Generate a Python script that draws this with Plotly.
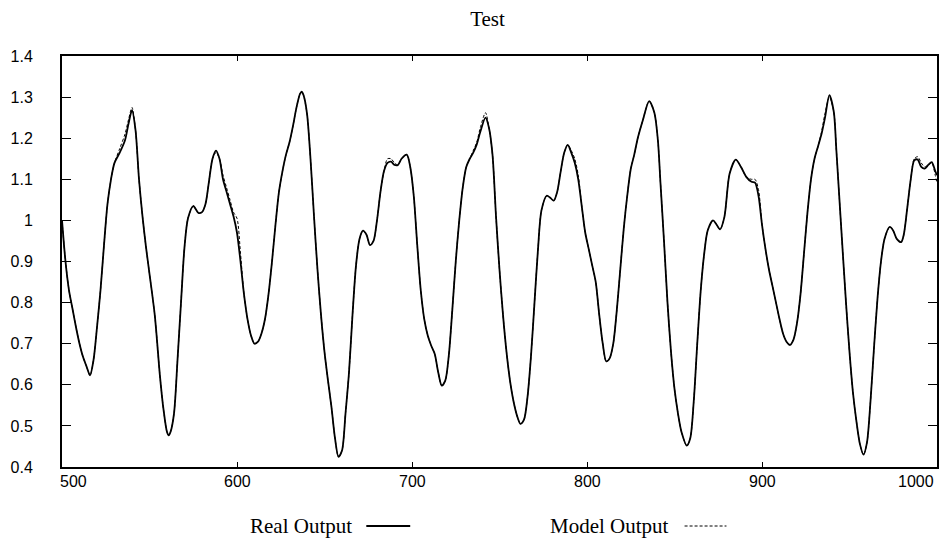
import plotly.graph_objects as go

# ---- data ----
x_vals = [500, 502, 504, 506, 508, 510, 512, 514, 516, 518, 520, 522, 524, 526, 528, 530, 533, 536, 538, 540,
          542, 544, 546, 548, 550, 553, 556, 558, 560, 561, 562, 564, 566, 568, 570, 572, 575, 578, 580, 582,
          584, 586, 588, 590, 592, 594, 596, 598, 600, 602, 604, 606, 608, 610, 612, 614, 616, 618, 620, 622,
          624, 626, 628, 630, 632, 634, 636, 637, 638, 640, 642, 644, 646, 648, 650, 652, 654, 656, 658, 660,
          662, 664, 666, 668, 670, 672, 674, 676, 678, 680, 682, 684, 686, 688, 690, 692, 694, 697, 699, 701,
          703, 705, 707, 709, 711, 713, 715, 717, 719, 721, 723, 725, 727, 729, 731, 733, 735, 737, 739, 742,
          744, 746, 748, 750, 752, 754, 756, 758, 760, 762, 764, 766, 768, 770, 772, 774, 777, 779, 781, 783,
          785, 787, 789, 791, 793, 795, 797, 799, 801, 803, 805, 807, 809, 811, 813, 815, 817, 819, 821, 823,
          825, 827, 829, 832, 835.5, 838.5, 840.5, 842, 844, 846, 848, 850, 852, 854, 857, 859, 861, 863, 865, 867,
          869, 872, 874, 876, 878.5, 881.5, 885, 888, 891, 894, 896, 898, 900, 902, 904, 906, 908, 910, 912, 914,
          916, 918, 920, 922, 924, 926, 928, 930, 932, 934, 936, 938.5, 941, 942.5, 945, 948, 950, 952, 954, 956,
          958, 960, 962, 964, 966, 968, 970, 973, 975, 977, 979.5, 981, 983, 985, 987, 989, 991, 993, 995, 997,
          999, 1000]

real_output = [1.00, 0.90, 0.83, 0.785, 0.74, 0.70, 0.668, 0.645, 0.623, 0.66, 0.74, 0.83, 0.94, 1.04, 1.10, 1.14, 1.165, 1.195, 1.235, 1.268,
               1.22, 1.10, 1.01, 0.935, 0.87, 0.77, 0.62, 0.54, 0.485, 0.477, 0.485, 0.53, 0.66, 0.80, 0.935, 1.005, 1.035, 1.018, 1.02, 1.04,
               1.095, 1.15, 1.17, 1.15, 1.10, 1.07, 1.04, 1.01, 0.97, 0.90, 0.82, 0.76, 0.72, 0.70, 0.705, 0.725, 0.76, 0.82, 0.90, 0.99,
               1.07, 1.12, 1.16, 1.19, 1.23, 1.275, 1.308, 1.313, 1.305, 1.26, 1.15, 1.01, 0.88, 0.77, 0.68, 0.61, 0.545, 0.47, 0.425, 0.44,
               0.53, 0.63, 0.77, 0.89, 0.955, 0.975, 0.965, 0.94, 0.95, 1.00, 1.07, 1.12, 1.14, 1.143, 1.135, 1.135, 1.15, 1.16, 1.13, 1.06,
               0.94, 0.83, 0.76, 0.72, 0.695, 0.675, 0.63, 0.598, 0.61, 0.67, 0.78, 0.90, 1.00, 1.08, 1.13, 1.15, 1.165, 1.185, 1.215, 1.25,
               1.225, 1.16, 1.01, 0.88, 0.77, 0.68, 0.61, 0.56, 0.525, 0.505, 0.515, 0.57, 0.67, 0.80, 0.93, 1.025, 1.06, 1.055, 1.048, 1.07,
               1.12, 1.165, 1.184, 1.165, 1.14, 1.10, 1.035, 0.97, 0.93, 0.89, 0.85, 0.77, 0.70, 0.657, 0.665, 0.70, 0.78, 0.88, 0.98, 1.06,
               1.125, 1.16, 1.20, 1.245, 1.29, 1.262, 1.195, 1.09, 0.95, 0.80, 0.68, 0.59, 0.53, 0.485, 0.452, 0.47, 0.56, 0.70, 0.83, 0.92,
               0.976, 1.00, 0.99, 0.978, 1.008, 1.114, 1.148, 1.13, 1.106, 1.094, 1.092, 1.06, 0.99, 0.93, 0.88, 0.84, 0.80, 0.76, 0.725, 0.705,
               0.697, 0.71, 0.75, 0.82, 0.92, 1.02, 1.10, 1.15, 1.18, 1.21, 1.25, 1.305, 1.265, 1.17, 1.00, 0.80, 0.68, 0.58, 0.51, 0.455,
               0.43, 0.46, 0.56, 0.69, 0.81, 0.90, 0.955, 0.984, 0.975, 0.955, 0.947, 0.965, 1.03, 1.10, 1.146, 1.148, 1.13, 1.126, 1.135, 1.142,
               1.12, 1.11]

model_output = [1.00, 0.90, 0.83, 0.785, 0.74, 0.70, 0.668, 0.645, 0.623, 0.66, 0.74, 0.83, 0.94, 1.04, 1.10, 1.14, 1.175, 1.21, 1.245, 1.275,
                1.22, 1.10, 1.01, 0.935, 0.87, 0.77, 0.62, 0.54, 0.485, 0.477, 0.485, 0.53, 0.66, 0.80, 0.935, 1.005, 1.035, 1.018, 1.02, 1.04,
                1.095, 1.15, 1.165, 1.15, 1.11, 1.08, 1.05, 1.02, 1.005, 0.92, 0.82, 0.76, 0.72, 0.70, 0.705, 0.725, 0.76, 0.82, 0.90, 0.99,
                1.07, 1.12, 1.16, 1.19, 1.23, 1.275, 1.308, 1.313, 1.305, 1.26, 1.15, 1.01, 0.88, 0.77, 0.68, 0.61, 0.545, 0.47, 0.425, 0.44,
                0.53, 0.63, 0.77, 0.89, 0.955, 0.975, 0.965, 0.94, 0.95, 1.00, 1.07, 1.12, 1.15, 1.15, 1.14, 1.135, 1.15, 1.16, 1.13, 1.06,
                0.94, 0.83, 0.76, 0.72, 0.695, 0.675, 0.63, 0.598, 0.61, 0.67, 0.78, 0.90, 1.00, 1.08, 1.13, 1.15, 1.17, 1.19, 1.225, 1.262,
                1.225, 1.16, 1.01, 0.88, 0.77, 0.68, 0.61, 0.56, 0.525, 0.505, 0.515, 0.57, 0.67, 0.80, 0.93, 1.025, 1.06, 1.055, 1.048, 1.07,
                1.12, 1.165, 1.184, 1.17, 1.15, 1.11, 1.035, 0.97, 0.93, 0.89, 0.85, 0.77, 0.70, 0.657, 0.665, 0.70, 0.78, 0.88, 0.98, 1.06,
                1.125, 1.16, 1.20, 1.245, 1.29, 1.262, 1.195, 1.09, 0.95, 0.80, 0.68, 0.59, 0.53, 0.485, 0.452, 0.47, 0.56, 0.70, 0.83, 0.92,
                0.976, 1.00, 0.99, 0.978, 1.008, 1.114, 1.148, 1.13, 1.106, 1.10, 1.10, 1.075, 0.99, 0.93, 0.88, 0.84, 0.80, 0.76, 0.725, 0.705,
                0.697, 0.71, 0.75, 0.82, 0.92, 1.02, 1.10, 1.15, 1.18, 1.215, 1.26, 1.30, 1.265, 1.17, 1.00, 0.80, 0.68, 0.58, 0.51, 0.455,
                0.43, 0.46, 0.56, 0.69, 0.81, 0.90, 0.955, 0.984, 0.975, 0.955, 0.947, 0.965, 1.03, 1.10, 1.15, 1.155, 1.14, 1.13, 1.135, 1.14,
                1.11, 1.09]

x_ticks = [500, 600, 700, 800, 900, 1000]
y_ticks = [0.4, 0.5, 0.6, 0.7, 0.8, 0.9, 1.0, 1.1, 1.2, 1.3, 1.4]
series_names = ["Real Output", "Model Output"]
title_text = "Test"

# ---- layout geometry (pixels) ----
W, H = 945, 547
L, R, T, B = 62, 6, 56, 80
PW = W - L - R
PH = H - T - B


def px_to_paper_x(px):
    return (px - L) / PW


def py_to_paper_y(py):
    return (H - B - py) / PH


SANS = "Liberation Sans, Arial, sans-serif"
SERIF = "Liberation Serif, Times New Roman, serif"

fig = go.Figure()
fig.add_trace(go.Scatter(x=x_vals, y=real_output, mode="lines", name=series_names[0],
                         line=dict(color="black", width=1.8, shape="spline", smoothing=0.8),
                         showlegend=False))
fig.add_trace(go.Scatter(x=x_vals, y=model_output, mode="lines", name=series_names[1],
                         line=dict(color="black", width=1, dash="3px,2px", shape="spline", smoothing=0.8),
                         showlegend=False))

annotations = []
for i, v in enumerate(x_ticks):
    if i == 0:
        anchor, shift = "left", -4
    elif i == len(x_ticks) - 1:
        anchor, shift = "right", -1
    else:
        anchor, shift = "center", 0
    annotations.append(dict(x=v, xref="x", y=0, yref="paper", yanchor="top", yshift=-4,
                            xanchor=anchor, xshift=shift, text=str(v), showarrow=False,
                            font=dict(family=SANS, size=16, color="black")))

# legend (text followed by line sample, as in the reference)
leg_y = py_to_paper_y(526)
legend_items = [
    (series_names[0], 355, 367, 411, "solid", 1.8),
    (series_names[1], 672, 686, 728, "3px,2px", 1),
]
shapes = []
for name, text_right, l0, l1, dash, w in legend_items:
    annotations.append(dict(x=px_to_paper_x(text_right), xref="paper", y=leg_y, yref="paper",
                            xanchor="right", yanchor="middle", text=name, showarrow=False,
                            font=dict(family=SERIF, size=21, color="black")))
    shapes.append(dict(type="line", xref="paper", yref="paper",
                       x0=px_to_paper_x(l0), x1=px_to_paper_x(l1), y0=leg_y, y1=leg_y,
                       line=dict(color="black", width=w, dash=dash)))

fig.update_layout(
    width=W, height=H,
    margin=dict(l=L, r=R, t=T, b=B, pad=0),
    paper_bgcolor="white", plot_bgcolor="white",
    title=dict(text=title_text, x=487.5 / W, xref="container", xanchor="center",
               y=1 - 19 / H, yref="container", yanchor="middle",
               font=dict(family=SERIF, size=21, color="black")),
    annotations=annotations,
    shapes=shapes,
    showlegend=False,
)
fig.update_xaxes(range=[500, 1000], tickvals=x_ticks, showticklabels=False,
                 ticks="inside", ticklen=5, tickwidth=1, tickcolor="black",
                 showline=True, linewidth=2, linecolor="black", mirror="ticks",
                 showgrid=False, zeroline=False)
fig.update_yaxes(range=[0.4, 1.4], tickvals=y_ticks, ticktext=[f"{v:g}" for v in y_ticks],
                 ticks="inside", ticklen=9, tickwidth=1, tickcolor="black",
                 showline=True, linewidth=2, linecolor="black", mirror="ticks",
                 showgrid=False, zeroline=False, ticklabelstandoff=24,
                 tickfont=dict(family=SANS, size=16, color="black"))

fig.write_html("out.html")
